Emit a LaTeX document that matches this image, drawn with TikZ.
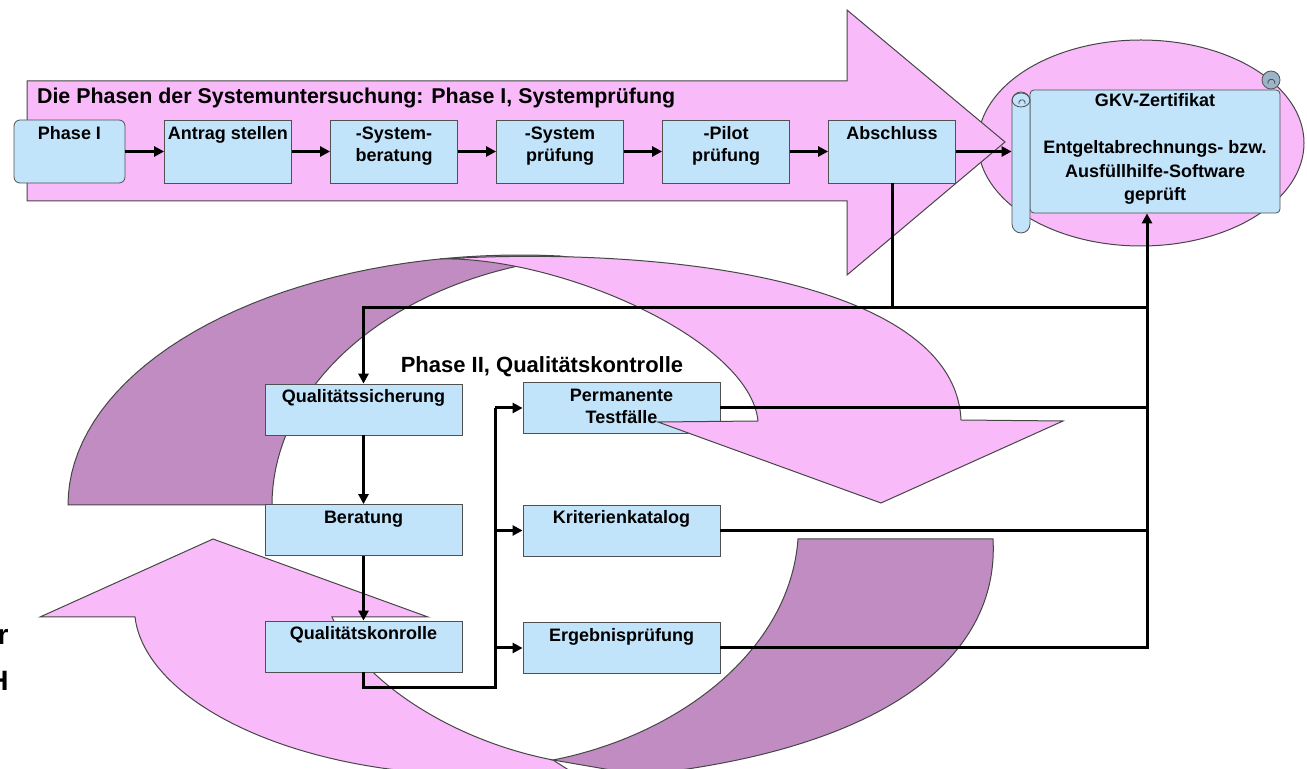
\documentclass[tikz,border=0pt]{standalone}
\usepackage{fontspec}
\setmainfont{Liberation Sans}
\usepackage{tikz}
\usetikzlibrary{positioning,arrows.meta}
\definecolor{pinkfill}{RGB}{249,186,249}
\definecolor{plumfill}{RGB}{192,140,193}
\definecolor{boxblue}{RGB}{194,228,250}
\definecolor{boxline}{RGB}{80,80,80}
\definecolor{bandline}{RGB}{70,70,70}
\definecolor{curlblue}{RGB}{155,180,200}

\begin{document}
\begin{tikzpicture}[x=0.5pt,y=-0.5pt,node distance=83pt,on grid,
   >={Triangle[length=5pt,width=5pt]},
   font=\bfseries\fontsize{9}{11}\selectfont,
   stepbox/.style={draw=boxline,fill=boxblue,inner sep=0pt,minimum width=63.5pt,
     minimum height=31.5pt,align=center,text height=10pt,text depth=21.5pt},
   qbox/.style={draw=boxline,fill=boxblue,inner sep=0pt,minimum width=98.5pt,
     minimum height=25.5pt,align=center,text height=9.5pt,text depth=16pt},
   twolines/.style={text height=21pt,text depth=10.5pt},
   band/.style={draw=bandline,line width=0.5pt},
   link/.style={line width=1.5pt}]
   \useasboundingbox (0,0) rectangle (1307,769);
   \clip (0,0) rectangle (1307,769);

   % Phase I
   \filldraw[band,fill=pinkfill] (1141,143) ellipse [x radius=81.5pt,y radius=51.5pt];
   \filldraw[band,fill=pinkfill] (27,81) -- (847,81) -- (847,10) -- (1005,142)
      -- (847,275) -- (847,201) -- (27,201) -- cycle;
   \node[anchor=base west,font=\bfseries\fontsize{10.7}{13}\selectfont] (titleI) at (30,104)
      {Die Phasen der Systemuntersuchung: Phase I, Systempr\"ufung};

   \node[stepbox,rounded corners=3pt,minimum width=55.5pt] (phaseI) at (69.5,151.5) {Phase I};
   \node[stepbox] (antrag) at (228,151.5) {Antrag stellen};
   \node[stepbox,twolines] (sysberatung) [right=of antrag] {-System-\\beratung};
   \node[stepbox,twolines] (syspruefung) [right=of sysberatung] {-System\\pr\"ufung};
   \node[stepbox,twolines] (pilot) [right=of syspruefung] {-Pilot\\pr\"ufung};
   \node[stepbox] (abschluss) [right=of pilot] {Abschluss};

   % Zertifikat
   \node[draw=boxline,fill=boxblue,rounded corners=2pt,inner sep=0pt,minimum width=125pt,
      minimum height=61.5pt,align=center,text height=55.5pt,text depth=6pt,
      font=\bfseries\fontsize{9}{11.75}\selectfont] (cert) at (1155,151.5)
      {GKV-Zertifikat\\[11.75pt]Entgeltabrechnungs- bzw.\\Ausf\"ullhilfe-Software\\gepr\"uft};
   \filldraw[draw=boxline,fill=curlblue,line width=0.4pt] (1271,80) circle (4.5pt);
   \draw[boxline,line width=0.4pt] (1268,84) arc[start angle=200,end angle=-20,radius=1.8pt];
   \node[draw=boxline,fill=boxblue,rounded corners=4.5pt,inner sep=0pt,minimum width=9pt,
      minimum height=70.5pt] (roll) at (1021,162.5) {};
   \draw[boxline,line width=0.4pt] (1021,100) ellipse [x radius=4.5pt,y radius=3.5pt];
   \draw[boxline,line width=0.4pt] (1019,104) arc[start angle=200,end angle=-20,radius=1.6pt];

   % Phase II
   \node[qbox,text height=20.5pt,text depth=5pt] (testfaelle) at (621.5,408)
      {Permanente\\Testf\"alle};

   \filldraw[band,fill=pinkfill] (213,539) -- (428,617) -- (332,617)
      .. controls (360,680) and (450,740) .. (553,760) -- (600,790) -- (480,775)
      .. controls (290,775) and (145,700) .. (135,617) -- (40,617) -- cycle;
   \filldraw[band,fill=plumfill] (553,760) .. controls (680,735) and (790,650) .. (798,539)
      -- (993,539) .. controls (1000,660) and (880,750) .. (640,775) -- cycle;
   \filldraw[band,fill=plumfill] (272,505) -- (68,505)
      -- plot[domain=180:275,samples=40] ({520+452*cos(\x)},{505+250*sin(\x)})
      -- plot[domain=262:180,samples=40] ({620+348*cos(\x)},{505+250*sin(\x)}) -- cycle;
   \filldraw[band,fill=pinkfill] (440,259) .. controls (680,245) and (955,285) .. (961,420)
      -- (1063,421) -- (881,503) -- (658,422) -- (758,421)
      .. controls (750,340) and (560,256) .. (440,259) -- cycle;

   \node[anchor=base,font=\bfseries\fontsize{11}{13}\selectfont] (titleII) at (542,373)
      {Phase II, Qualit\"atskontrolle};
   \node[qbox] (sicherung) at (363.5,409.5) {Qualit\"atssicherung};
   \node[qbox] (beratung) at (363.5,530) {Beratung};
   \node[qbox] (kontrolle) at (363.5,646.5) {Qualit\"atskonrolle};
   \node[qbox] (katalog) at (621.5,530.5) {Kriterienkatalog};
   \node[qbox] (ergebnis) at (621.5,648) {Ergebnispr\"ufung};

   \node[anchor=base east,inner sep=0pt,font=\bfseries\fontsize{14}{16}\selectfont] (cutR)
      at (9,645) {r};
   \node[anchor=base east,inner sep=0pt,font=\bfseries\fontsize{14}{16}\selectfont] (cutH)
      at (9,690) {H};

   % connectors
   \coordinate (busN) at (1147,308);
   \coordinate (fork) at (495,688);
   \path[->,link]
      (phaseI) edge (antrag)
      (antrag) edge (sysberatung)
      (sysberatung) edge (syspruefung)
      (syspruefung) edge (pilot)
      (pilot) edge (abschluss)
      (sicherung) edge (beratung)
      (beratung) edge (kontrolle);
   \draw[->,link] (abschluss.east) -- (abschluss.east -| roll.west);
   \draw[->,link] (abschluss.south) -- (abschluss.south |- busN) -| (sicherung.north);
   \draw[link] (sicherung.north |- busN) -- (busN);
   \draw[link] (kontrolle.south) |- (fork) -- (fork |- testfaelle);
   \draw[->,link] (fork |- testfaelle) -- (testfaelle.west);
   \draw[->,link] (fork |- katalog) -- (katalog.west);
   \draw[->,link] (fork) -- (fork |- ergebnis) -- (ergebnis.west);
   \draw[link] (testfaelle.east) -- (testfaelle.east -| busN);
   \draw[link] (katalog.east) -- (katalog.east -| busN);
   \draw[->,link] (ergebnis.east) -- (ergebnis.east -| busN) -- (busN |- cert.south);
\end{tikzpicture}
\end{document}
